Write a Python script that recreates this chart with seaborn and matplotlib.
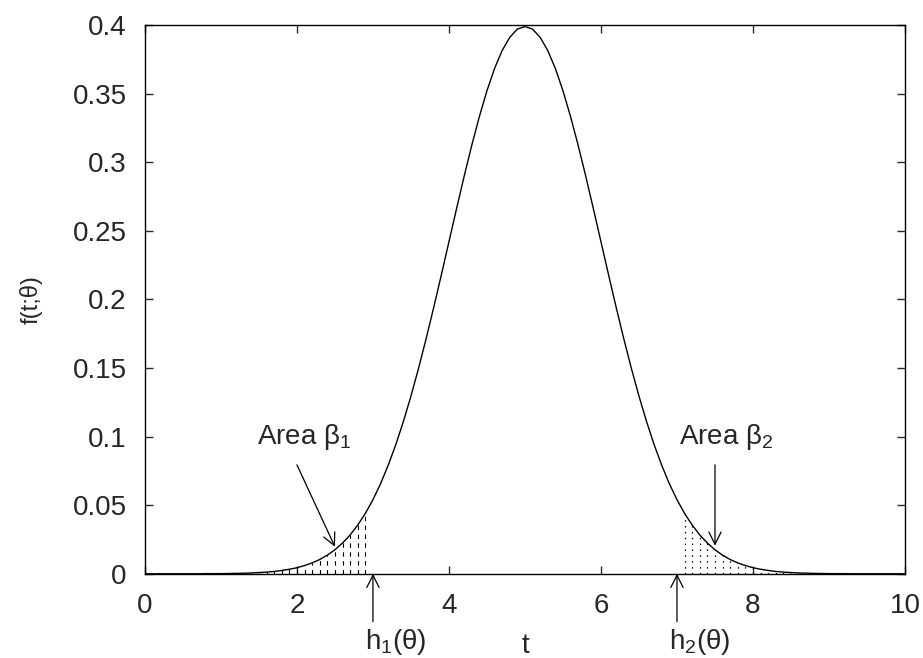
import numpy as np
import matplotlib
matplotlib.use('Agg')
import matplotlib.pyplot as plt
import seaborn as sns
import pandas as pd

sns.set_style('white')
plt.rcParams['font.family'] = ['Liberation Sans', 'DejaVu Sans']
plt.rcParams['mathtext.fontset'] = 'custom'
plt.rcParams['mathtext.rm'] = 'Liberation Sans'
plt.rcParams['mathtext.it'] = 'Liberation Sans:italic'

# curve, t = 0 .. 10 in steps of 0.1
t_vals = [round(0.1 * i, 1) for i in range(101)]
f_vals = [
    0.0000, 0.0000, 0.0000, 0.0000, 0.0000, 0.0000, 0.0000, 0.0000, 0.0001, 0.0001,
    0.0001, 0.0002, 0.0003, 0.0004, 0.0006, 0.0009, 0.0012, 0.0017, 0.0024, 0.0033,
    0.0044, 0.0060, 0.0079, 0.0104, 0.0136, 0.0175, 0.0224, 0.0283, 0.0355, 0.0440,
    0.0540, 0.0656, 0.0790, 0.0940, 0.1109, 0.1295, 0.1497, 0.1714, 0.1942, 0.2179,
    0.2420, 0.2661, 0.2897, 0.3123, 0.3332, 0.3521, 0.3683, 0.3814, 0.3910, 0.3970,
    0.3989,
    0.3970, 0.3910, 0.3814, 0.3683, 0.3521, 0.3332, 0.3123, 0.2897, 0.2661, 0.2420,
    0.2179, 0.1942, 0.1714, 0.1497, 0.1295, 0.1109, 0.0940, 0.0790, 0.0656, 0.0540,
    0.0440, 0.0355, 0.0283, 0.0224, 0.0175, 0.0136, 0.0104, 0.0079, 0.0060, 0.0044,
    0.0033, 0.0024, 0.0017, 0.0012, 0.0009, 0.0006, 0.0004, 0.0003, 0.0002, 0.0001,
    0.0001, 0.0001, 0.0000, 0.0000, 0.0000, 0.0000, 0.0000, 0.0000, 0.0000, 0.0000,
]
df = pd.DataFrame({'t': t_vals, 'f': f_vals})

# shaded tails (hatch lines)
left_tail = df[(df.t >= 1.0) & (df.t <= 2.9)]
right_tail = df[(df.t >= 7.1) & (df.t <= 9.0)]

h1 = 3.0
h2 = 7.0

fig = plt.figure(figsize=(9.23, 6.58), dpi=100)
ax = fig.add_axes([0.157, 0.128, 0.8235, 0.834])

sns.lineplot(data=df, x='t', y='f', color='black', lw=1.0, ax=ax)

ax.vlines(left_tail.t, 0, left_tail.f, colors='black', lw=0.8,
          linestyles=(0, (4, 4)))
ax.vlines(right_tail.t, 0, right_tail.f, colors='black', lw=0.9,
          linestyles=(0, (1.2, 3.5)))

ax.set_xlim(0, 10)
ax.set_ylim(0, 0.4)
ax.set_xticks([0, 2, 4, 6, 8, 10])
ax.set_yticks([0, 0.05, 0.1, 0.15, 0.2, 0.25, 0.3, 0.35, 0.4])
ax.set_yticklabels(['0', '0.05', '0.1', '0.15', '0.2', '0.25', '0.3', '0.35', '0.4'])
ax.tick_params(direction='in', length=6, width=1, labelsize=20,
               top=True, right=True, bottom=True, left=True)
ax.tick_params(axis='x', pad=14)
ax.tick_params(axis='y', pad=13)
for s in ax.spines.values():
    s.set_color('black')
    s.set_linewidth(1)

ax.set_xlabel('t', fontsize=20, labelpad=10)
ax.set_ylabel('f(t;θ)', fontsize=17, labelpad=22)

arrow = dict(arrowstyle='->', color='black', lw=0.9, mutation_scale=22,
             shrinkA=0, shrinkB=0)

ax.annotate('', xy=(2.5, 0.0197), xytext=(2.0, 0.0794), arrowprops=arrow)
ax.text(2.1, 0.0995, 'Area β$_1$', fontsize=20, ha='center', va='center')
ax.annotate('', xy=(7.5, 0.0205), xytext=(7.5, 0.0794), arrowprops=arrow)
ax.text(7.65, 0.0995, 'Area β$_2$', fontsize=20, ha='center', va='center')

ax.annotate('', xy=(h1, 0.0), xytext=(h1, -0.035), arrowprops=arrow,
            annotation_clip=False)
ax.text(h1 - 0.1, -0.0495, 'h$_1$(θ)', fontsize=20, ha='left', va='center')
ax.annotate('', xy=(h2, 0.0), xytext=(h2, -0.035), arrowprops=arrow,
            annotation_clip=False)
ax.text(h2 - 0.1, -0.0495, 'h$_2$(θ)', fontsize=20, ha='left', va='center')

fig.savefig('out.png', dpi=100)
